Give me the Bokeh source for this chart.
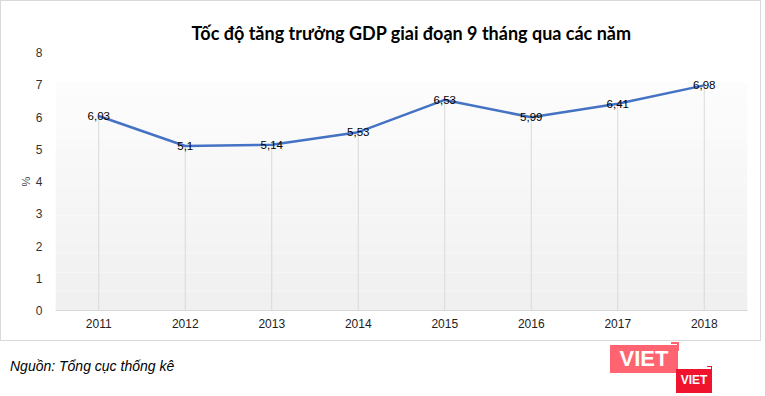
from bokeh.plotting import figure
from bokeh.layouts import column
from bokeh.models import ColumnDataSource, FactorRange, Range1d, FixedTicker, Title, BoxAnnotation, Div
from bokeh.core.properties import value
from bokeh.embed import file_html
from bokeh.resources import INLINE

years = ["2011", "2012", "2013", "2014", "2015", "2016", "2017", "2018"]
growth = [6.03, 5.1, 5.14, 5.53, 6.53, 5.99, 6.41, 6.98]
labels = [f"{v:g}".replace(".", ",") for v in growth]
y_ticks = [0, 1, 2, 3, 4, 5, 6, 7, 8]

title_text = "Tốc độ tăng trưởng GDP giai đoạn 9 tháng qua các năm"
source_text = "Nguồn: Tổng cục thống kê"
logo_text = "VIET"

src = ColumnDataSource(dict(x=years, y=growth, base=[0] * len(years), lab=labels))

W, H = 761, 341
FL, FR, FT, FB = 54, 746, 51, 309  # frame edges in canvas pixels
p = figure(x_range=FactorRange(*years), y_range=Range1d(0, 8),
           width=W, height=H, output_backend="svg", toolbar_location=None,
           min_border_left=FL, min_border_right=W - FR, min_border_top=FT, min_border_bottom=H - FB,
           styles={"border": "1px solid #d9d9d9", "box-sizing": "border-box"})
p.outline_line_color = None
p.background_fill_color = "white"
p.xgrid.grid_line_color = None
p.ygrid.grid_line_color = None

p.title = Title(text=title_text, align="left", offset=136, text_font="Lato",
                text_font_style="bold", text_font_size="18px", text_color="black", standoff=17)

# gradient plot area background
n = 24
top_v = 7.07
for i in range(n):
    b = top_v * i / n
    t = top_v * (i + 1) / n
    fr = (i + 0.5) / n
    c = int(240 + (253 - 240) * fr)
    p.add_layout(BoxAnnotation(bottom=b, top=t, fill_color=f"#{c:02x}{c:02x}{c:02x}",
                               fill_alpha=1, line_color=None, level="underlay"))

p.segment(x0="x", y0="base", x1="x", y1="y", source=src, line_color="#d9d9d9", line_width=1)
p.line(x="x", y="y", source=src, line_color="#4472c4", line_width=2.5)
p.text(x="x", y="y", text="lab", source=src, text_align="center", text_baseline="middle",
       text_font_size="11.5px", text_color="black", text_font=value("Liberation Sans"))

p.yaxis.ticker = FixedTicker(ticks=y_ticks)
p.yaxis.axis_line_color = None
p.yaxis.major_tick_line_color = None
p.yaxis.minor_tick_line_color = None
p.yaxis.major_label_text_font = "Liberation Sans"
p.yaxis.major_label_text_font_size = "12px"
p.yaxis.major_label_text_color = "#333333"
p.yaxis.major_label_standoff = 7
p.yaxis.axis_label = "%"
p.yaxis.axis_label_text_font = "Liberation Sans"
p.yaxis.axis_label_text_font_size = "11px"
p.yaxis.axis_label_text_font_style = "normal"
p.yaxis.axis_label_standoff = 1

p.xaxis.axis_line_color = "#d9d9d9"
p.xaxis.major_tick_line_color = None
p.xaxis.minor_tick_line_color = None
p.xaxis.major_label_text_font = "Liberation Sans"
p.xaxis.major_label_text_font_size = "12px"
p.xaxis.major_label_text_color = "#222222"
p.xaxis.major_label_standoff = 2

# footer: source note and logo
footer_html = f"""
<div style="position:relative;width:765px;height:55px;">
  <span style="position:absolute;left:5px;top:10px;font-family:'Liberation Sans';font-style:italic;
               font-size:14px;color:#000;white-space:nowrap;">{source_text}</span>
  <div style="position:absolute;left:605px;top:-1px;width:68px;height:28px;background:#ff6470;
              color:#fff;font-family:'Liberation Sans';font-weight:bold;font-size:22px;
              line-height:28px;text-align:center;">{logo_text}</div>
  <div style="position:absolute;left:666px;top:-4px;width:8px;height:9px;
              border-top:2px solid #ff6470;border-right:2px solid #ff6470;"></div>
  <div style="position:absolute;left:671px;top:23px;width:36px;height:24px;background:#f0132d;
              color:#fff;font-family:'Liberation Sans';font-weight:bold;font-size:12px;
              line-height:22px;text-align:center;">{logo_text}</div>
  <div style="position:absolute;left:702px;top:20px;width:5px;height:6px;
              border-top:1.5px solid #f0132d;border-right:1.5px solid #f0132d;"></div>
</div>
"""
footer = Div(text=footer_html, width=765, height=396 - H)

layout = column(p, footer, spacing=0)
open("out.html", "w").write(file_html(layout, INLINE))
